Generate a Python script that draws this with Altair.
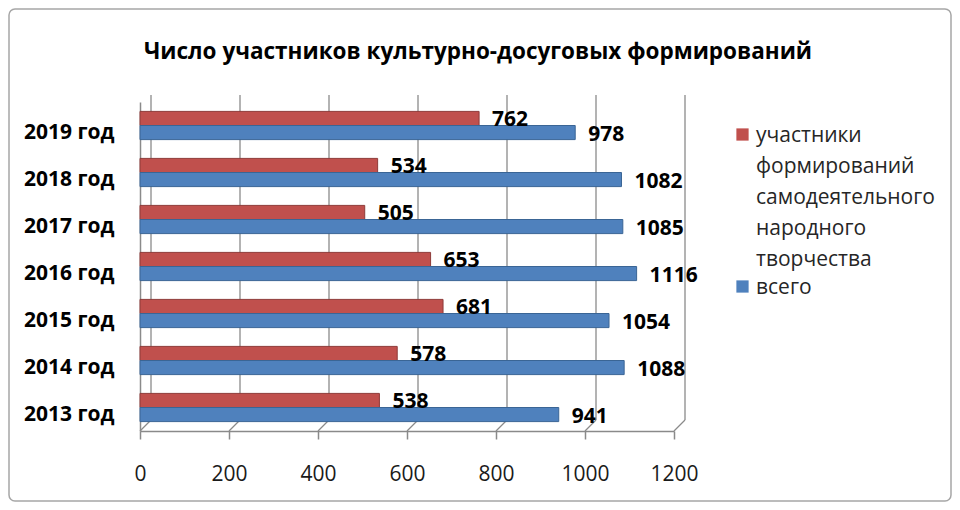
import altair as alt
import pandas as pd

# ---- data ----
years = ["2019 год", "2018 год", "2017 год ", "2016 год", "2015 год", "2014 год", "2013 год "]
participants = [762, 534, 505, 653, 681, 578, 538]
total = [978, 1082, 1085, 1116, 1054, 1088, 941]
series = ["участники формирований самодеятельного народного творчества", "всего"]
colors = ["#C0504D", "#4F81BD"]
edge_colors = ["#8E3B39", "#3A6595"]
ticks = [0, 200, 400, 600, 800, 1000, 1200]
title_text = "Число участников культурно-досуговых  формирований"

rows = []
for yv, p, t in zip(years, participants, total):
    rows.append({"year": yv, "series": series[0], "value": p})
    rows.append({"year": yv, "series": series[1], "value": t})
df = pd.DataFrame(rows)
tick_df = pd.DataFrame({"t": ticks})

FONT = "Open Sans"
W, H = 534, 329
GRID = "#8a8a8a"

x_scale = alt.Scale(domain=[0, 1200], nice=False, zero=True)
x_axis = alt.Axis(values=ticks, format="d", title=None, grid=False, labelFont=FONT, labelFontSize=21,
                  labelColor="#1a1a1a", tickSize=8, tickColor=GRID, tickWidth=1.5, labelFlush=False,
                  domainColor=GRID, domainWidth=1.5, labelPadding=17)
y_axis = alt.Axis(title=None, labelFont=FONT, labelFontSize=21, labelFontWeight="bold",
                  labelColor="#000000", labelPadding=26, ticks=False, domainColor=GRID,
                  domainWidth=1.5, labelBaseline="middle")
y_sort = years
y_scale = alt.Scale(paddingInner=0.4, paddingOuter=0.2)
yoff = alt.YOffset("series:N", sort=series, scale=alt.Scale(paddingInner=0, paddingOuter=0))

# decorative frame around the chart
frame = alt.Chart(pd.DataFrame({"k": [0]})).mark_rect(
    fillOpacity=0, stroke="#a6a6a6", strokeWidth=1.5, cornerRadius=6
).encode(x=alt.value(-131), x2=alt.value(811), y=alt.value(-93), y2=alt.value(399))

# back-wall gridlines (3D look)
grid = alt.Chart(tick_df).mark_rule(color=GRID, strokeWidth=1.3, xOffset=11).encode(
    x=alt.X("t:Q", scale=x_scale, axis=x_axis), y=alt.value(-7), y2=alt.value(318)
)
floor = alt.Chart(tick_df).mark_rule(color=GRID, strokeWidth=1.3, xOffset=11, x2Offset=0).encode(
    x=alt.X("t:Q", scale=x_scale, axis=x_axis), x2="t:Q", y=alt.value(318), y2=alt.value(329)
)

bars = alt.Chart(df).mark_bar(strokeWidth=1).encode(
    x=alt.X("value:Q", scale=x_scale, axis=x_axis),
    y=alt.Y("year:N", sort=y_sort, scale=y_scale, axis=y_axis),
    yOffset=yoff,
    color=alt.Color(
        "series:N", sort=series, scale=alt.Scale(domain=series, range=colors),
        legend=alt.Legend(title=None, orient="none", legendX=592, legendY=22, padding=0,
                          symbolType="square", symbolSize=150, symbolStrokeWidth=0,
                          labelFont=FONT, labelFontSize=21, labelColor="#262626",
                          labelLimit=400, labelOffset=3, labelBaseline="alphabetic",
                          rowPadding=6, labelExpr="split(datum.label, ' ')"),
    ),
    stroke=alt.Stroke("series:N", sort=series, scale=alt.Scale(domain=series, range=edge_colors), legend=None),
)

labels = alt.Chart(df).mark_text(
    align="left", baseline="middle", dx=13, dy=2, font=FONT, fontSize=21, fontWeight="bold", color="#000000"
).encode(
    x=alt.X("value:Q", scale=x_scale, axis=x_axis),
    y=alt.Y("year:N", sort=y_sort, scale=y_scale, axis=y_axis),
    yOffset=yoff,
    text="value:Q",
)

chart = alt.layer(frame, grid, floor, bars, labels).properties(
    width=W, height=H,
    padding={"left": 132, "top": 94, "right": 278, "bottom": 71},
    autosize=alt.AutoSizeParams(type="none"),
    title=alt.TitleParams(text=title_text, font=FONT, fontSize=22.5, fontWeight="bold", color="#000000",
                          anchor="middle", frame="group", dx=71, offset=-73, baseline="alphabetic"),
).configure(
    style={"guide-label": {"lineHeight": 31, "dy": 7}}
).configure_view(strokeWidth=0)

chart.save("out.html", embed_options={"renderer": "svg", "actions": False})
